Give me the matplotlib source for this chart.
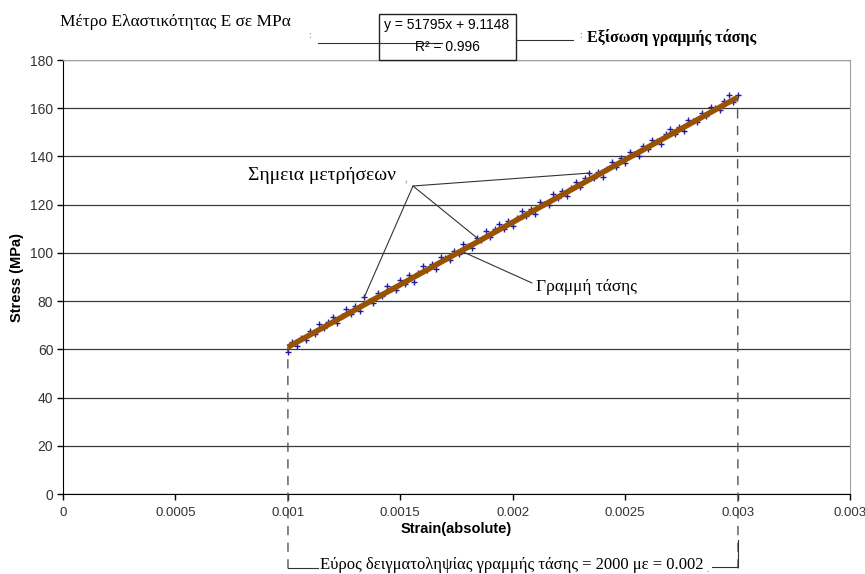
import matplotlib
matplotlib.use("Agg")
import matplotlib.pyplot as plt
from matplotlib.lines import Line2D
from matplotlib.patches import Rectangle

W, H = 865, 574

# measured strain (microstrain) and stress (MPa)
strain_ue = [1000, 1020, 1040, 1060, 1080, 1100, 1120, 1140, 1160, 1180,
             1200, 1220, 1240, 1260, 1280, 1300, 1320, 1340, 1360, 1380,
             1400, 1420, 1440, 1460, 1480, 1500, 1520, 1540, 1560, 1580,
             1600, 1620, 1640, 1660, 1680, 1700, 1720, 1740, 1760, 1780,
             1800, 1820, 1840, 1860, 1880, 1900, 1920, 1940, 1960, 1980,
             2000, 2020, 2040, 2060, 2080, 2100, 2120, 2140, 2160, 2180,
             2200, 2220, 2240, 2260, 2280, 2300, 2320, 2340, 2360, 2380,
             2400, 2420, 2440, 2460, 2480, 2500, 2520, 2540, 2560, 2580,
             2600, 2620, 2640, 2660, 2680, 2700, 2720, 2740, 2760, 2780,
             2800, 2820, 2840, 2860, 2880, 2900, 2920, 2940, 2960, 2980,
             3000]
stress_mpa = [59.1, 63.1, 61.5, 64.8, 63.9, 67.7, 66.2, 70.4, 68.8, 71.3,
              73.3, 71.0, 74.0, 76.7, 74.6, 78.0, 75.9, 81.7, 80.2, 79.2,
              83.5, 82.2, 86.1, 85.0, 84.6, 88.6, 87.1, 91.0, 88.0, 91.8,
              94.6, 92.7, 95.4, 93.4, 98.1, 97.7, 97.2, 100.9, 99.7, 103.6,
              102.7, 102.0, 106.3, 105.2, 109.0, 106.4, 109.8, 111.8, 109.8, 113.3,
              111.2, 114.6, 117.2, 115.3, 118.1, 116.1, 120.9, 120.1, 119.8, 124.6,
              122.7, 125.6, 123.5, 127.0, 129.5, 127.3, 131.0, 133.1, 131.0, 133.6,
              131.5, 135.0, 137.9, 135.8, 139.4, 137.3, 141.7, 141.0, 140.2, 144.3,
              143.2, 147.0, 146.3, 145.2, 149.3, 151.4, 149.2, 152.1, 150.7, 155.1,
              154.5, 154.2, 158.0, 156.9, 160.6, 159.9, 159.1, 162.9, 165.6, 162.5,
              165.5]
strain = [s * 1e-6 for s in strain_ue]

# trend line from the chart equation
slope = 51795
intercept = 9.1148
r2 = 0.996

xticks = [0, 0.0005, 0.001, 0.0015, 0.002, 0.0025, 0.003, 0.0035]
xticklabels = ["0", "0.0005", "0.001", "0.0015", "0.002", "0.0025", "0.003", "0.003"]
yticks = [0, 20, 40, 60, 80, 100, 120, 140, 160, 180]


def px(x, y):
    # pixel (from top-left) -> figure fraction
    return (x / W, 1 - y / H)


serif = "Liberation Serif"
sans = "Liberation Sans"
plt.rcParams["font.family"] = [sans, "DejaVu Sans"]

fig = plt.figure(figsize=(W / 100, H / 100), dpi=100)
ax = fig.add_axes([63 / W, 1 - 494 / H, (850 - 63) / W, (494 - 60) / H])

ax.set_xlim(0, 0.0035)
ax.set_ylim(0, 180)
ax.set_xticks(xticks)
ax.set_xticklabels(xticklabels)
ax.set_yticks(yticks)
ax.tick_params(axis="both", direction="out", length=4, width=1, color="black",
               labelsize=10, labelcolor="#333333")
ax.tick_params(axis="x", pad=5, labelsize=9.5)
ax.tick_params(axis="y", pad=3)
ax.grid(axis="y", color="#3a3a3a", lw=0.9)
ax.set_axisbelow(True)
for side in ["left", "bottom"]:
    ax.spines[side].set_color("black")
for side in ["top", "right"]:
    ax.spines[side].set_color("#a0a0a0")

ax.set_xlabel("Strain(absolute)", fontsize=10.5, fontweight="bold")
ax.xaxis.set_label_coords(0.5, -0.064)
ax.set_ylabel("Stress (MPa)", fontsize=10.5, fontweight="bold")
ax.yaxis.set_label_coords(-0.05, 0.5)

# measurement points and trend line
ax.plot(strain, stress_mpa, linestyle="none", marker="+", markersize=4,
        mew=1, color="#1c1ca8", zorder=3)
fit_x = [strain[0], strain[-1]]
fit_y = [slope * x + intercept for x in fit_x]
ax.plot(fit_x, fit_y, color="#995200", lw=4, solid_capstyle="butt", zorder=4)

lc = "#333333"
arrow = dict(arrowstyle="-", color=lc, lw=0.8, shrinkA=0, shrinkB=0)
dashed = dict(arrowstyle="-", color="#555555", lw=1, shrinkA=0, shrinkB=0,
              linestyle=(0, (6, 6)))

# sampling range dashed lines
ax.annotate("", xy=(fit_x[0], fit_y[0]), xycoords="data",
            xytext=px(288, 568), textcoords="figure fraction", arrowprops=dashed)
ax.annotate("", xy=(fit_x[1], fit_y[1]), xycoords="data",
            xytext=px(738, 568), textcoords="figure fraction", arrowprops=dashed)


def fig_line(p0, p1):
    fig.add_artist(Line2D([p0[0], p1[0]], [p0[1], p1[1]], color=lc, lw=0.8,
                          transform=fig.transFigure))


fig_line(px(288, 568), px(318, 568))
fig_line(px(712, 567), px(738, 567))
fig_line(px(738, 567), px(738, 540))
fig.text(*px(320, 565), "Εύρος δειγματοληψίας γραμμής τάσης = 2000 με = 0.002",
         family=serif, fontsize=12, ha="left", va="center")
fig.text(*px(708, 570), ".", family=serif, fontsize=7, color="#777777",
         ha="center", va="center")

# modulus / equation box
fig.text(*px(60, 22), "Μέτρο Ελαστικότητας Ε σε ΜΡα", family=serif,
         fontsize=12.5, ha="left", va="center")
fig.text(*px(310, 36), ":", family=serif, fontsize=7, color="#777777",
         ha="center", va="center")
fig.add_artist(Rectangle(px(379, 60), 137 / W, 46 / H, transform=fig.transFigure,
                         facecolor="white", edgecolor="#222222", lw=1))
fig_line(px(318, 43), px(442, 43))
fig.text(*px(447, 25), f"y = {slope}x + {intercept}", family=sans, fontsize=10,
         ha="center", va="center")
fig.text(*px(447, 47), f"R² = {r2}", family=sans, fontsize=10,
         ha="center", va="center")
fig_line(px(516, 40), px(573, 40))
fig.text(*px(581, 35), ":", family=serif, fontsize=7, color="#777777",
         ha="center", va="center")
fig.text(*px(587, 38), "Εξίσωση γραμμής τάσης", family=serif, fontsize=11.5,
         fontweight="bold", ha="left", va="center")

# measurement points label
apex = px(413, 186)
fig.text(*px(248, 176), "Σημεια μετρήσεων", family=serif, fontsize=14,
         ha="left", va="center")
fig.text(*px(406, 179), ",", family=serif, fontsize=7, color="#777777",
         ha="center", va="center")
for i in [17, 42, 67]:
    ax.annotate("", xy=(strain[i], stress_mpa[i]), xycoords="data",
                xytext=apex, textcoords="figure fraction", arrowprops=arrow)

# trend line label
fig.add_artist(Rectangle(px(536, 296), 129 / W, 12 / H, transform=fig.transFigure,
                         facecolor="white", edgecolor="none"))
lx = 0.00177
ax.annotate("", xy=(lx, slope * lx + intercept), xycoords="data",
            xytext=px(532, 283), textcoords="figure fraction", arrowprops=arrow)
fig.text(*px(536, 287), "Γραμμή τάσης", family=serif, fontsize=12.5,
         ha="left", va="center")

fig.savefig("out.png", dpi=100)
